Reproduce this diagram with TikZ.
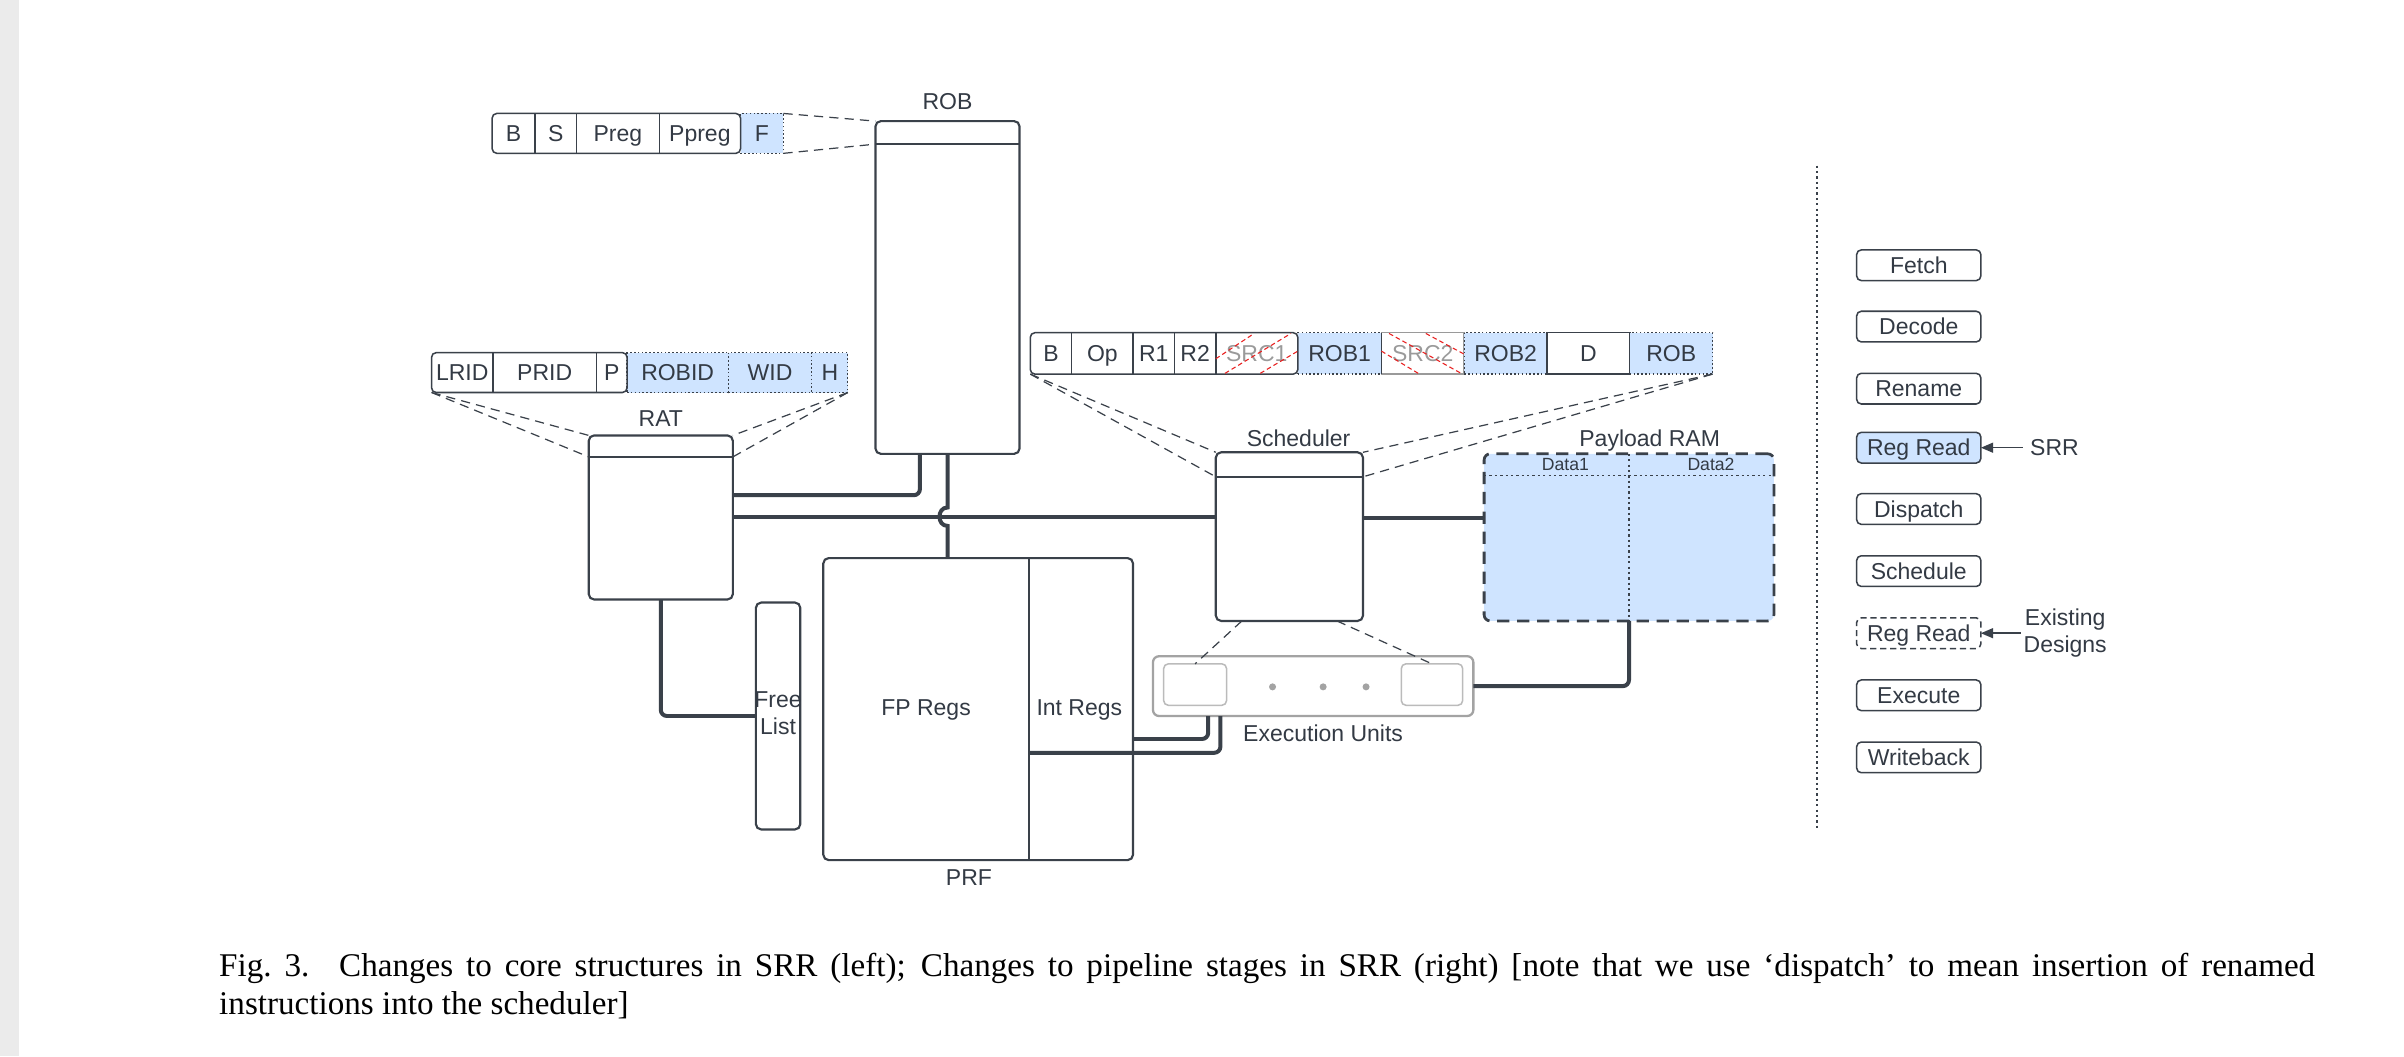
\documentclass[tikz,border=0pt]{standalone}
\usepackage{fontspec}
\setmainfont{Liberation Serif}
\newfontfamily\lsans{Liberation Sans}
\usetikzlibrary{arrows.meta,calc}
\definecolor{lc}{HTML}{3A414A}
\definecolor{tc}{HTML}{333A44}
\definecolor{bluef}{HTML}{CFE4FF}
\definecolor{grayb}{HTML}{A3A3A3}
\definecolor{grayi}{HTML}{BBBBBB}
\definecolor{redh}{HTML}{E82020}
\definecolor{srct}{HTML}{9A9A9A}
\definecolor{strip}{HTML}{EBEBEB}
\begin{document}
\begin{tikzpicture}[x=1pt,y=-1pt,
  every node/.style={inner sep=0pt, outer sep=0pt},
  lbl/.style={text=tc, font=\lsans\fontsize{15}{18}\selectfont, text height=10.7pt, text depth=0pt},
  mlbl/.style={text=tc, font=\lsans\fontsize{15}{17.5}\selectfont, align=center},
  small/.style={text=tc, font=\lsans\fontsize{11.5}{13}\selectfont, text height=8.2pt, text depth=0pt},
  bigbox/.style={draw=lc, line width=1.4pt, rounded corners=3.5pt},
  hdr/.style={draw=lc, line width=1.4pt},
  cell/.style={lbl, minimum height=26pt},
  bcell/.style={fill=bluef, draw=lc, line width=0.8pt, dash pattern=on 1pt off 1.5pt},
  barline/.style={draw=lc, line width=1pt},
  hatch/.style={draw=redh, line width=0.7pt, dash pattern=on 3pt off 2pt},
  conn/.style={draw=lc, line width=2.6pt, rounded corners=4pt},
  zline/.style={draw=lc, line width=0.8pt, dash pattern=on 6pt off 4pt},
  dotl/.style={draw=lc, line width=1pt, dash pattern=on 1.5pt off 2pt},
  sepl/.style={draw=lc, line width=1.2pt, dash pattern=on 1.5pt off 2pt},
  stage/.style={lbl, draw=lc, line width=1pt, rounded corners=3pt, minimum width=81pt, minimum height=20pt},
  arr/.style={draw=lc, line width=1pt, -{Triangle[length=8pt,width=6.5pt]}}
]
\useasboundingbox (0,0) rectangle (1568,689);
\fill[strip] (0,0) rectangle (12.4,689);

% ---------------- ROB ----------------
\node[bigbox, minimum width=94pt, minimum height=217pt] (rob) at (618,187.5) {};
\draw[hdr] ([yshift=-15pt]rob.north west) -- ([yshift=-15pt]rob.north east);
\node[lbl] (robl) at (618,66) {ROB};

\node[cell, minimum width=28pt] (rbB) at (335,87) {B};
\node[cell, minimum width=27pt] (rbS) at (362.5,87) {S};
\node[cell, minimum width=54pt] (rbP) at (403,87) {Preg};
\node[cell, minimum width=53pt] (rbPP) at (456.5,87) {Ppreg};
\node[cell, bcell, minimum width=28pt] (rbF) at (497,87) {F};
\draw[barline, rounded corners=3pt] (rbB.north west) rectangle (rbPP.south east);
\draw[barline] (rbB.north east) -- (rbB.south east) (rbS.north east) -- (rbS.south east) (rbP.north east) -- (rbP.south east);
\draw[zline] (rbF.north east) -- (rob.north west);
\draw[zline] (rbF.south east) -- ([yshift=-15pt]rob.north west);

% ---------------- RAT ----------------
\node[bigbox, minimum width=94pt, minimum height=107pt] (rat) at (431,337.5) {};
\draw[hdr] ([yshift=-14pt]rat.north west) -- ([yshift=-14pt]rat.north east);
\node[lbl] (ratl) at (431,273) {RAT};

\node[cell, minimum width=40pt] (raLR) at (301.5,243) {LRID};
\node[cell, minimum width=67.5pt] (raPR) at (355.25,243) {PRID};
\node[cell, minimum width=20pt] (raP) at (399,243) {P};
\node[cell, bcell, minimum width=66pt] (raRO) at (442,243) {ROBID};
\node[cell, bcell, minimum width=54.5pt] (raW) at (502.25,243) {WID};
\node[cell, bcell, minimum width=23.5pt] (raH) at (541.25,243) {H};
\draw[barline, rounded corners=3pt] (raLR.north west) rectangle (raP.south east);
\draw[barline] (raLR.north east) -- (raLR.south east) (raPR.north east) -- (raPR.south east);
\draw[zline] (raLR.south west) -- (rat.north west);
\draw[zline] (raLR.south west) -- ([yshift=-14pt]rat.north west);
\draw[zline] (raH.south east) -- (rat.north east);
\draw[zline] (raH.south east) -- ([yshift=-14pt]rat.north east);

% ---------------- Scheduler ----------------
\node[bigbox, minimum width=96pt, minimum height=110pt] (sch) at (841,350) {};
\draw[hdr] ([yshift=-16pt]sch.north west) -- ([yshift=-16pt]sch.north east);
\node[lbl] (schl) at (847,286) {Scheduler};

\node[cell, minimum height=27pt, minimum width=27pt] (sbB) at (685.5,230.5) {B};
\node[cell, minimum height=27pt, minimum width=40pt] (sbOp) at (719,230.5) {Op};
\node[cell, minimum height=27pt, minimum width=27pt] (sbR1) at (752.5,230.5) {R1};
\node[cell, minimum height=27pt, minimum width=27pt] (sbR2) at (779.5,230.5) {R2};
\node[cell, minimum height=27pt, minimum width=53.5pt, text=srct] (sbS1) at (819.75,230.5) {SRC1};
\node[cell, bcell, minimum height=27pt, minimum width=54.5pt] (sbRO1) at (873.75,230.5) {ROB1};
\node[cell, minimum height=27pt, minimum width=54pt, text=srct, draw=srct, line width=1pt] (sbS2) at (928,230.5) {SRC2};
\node[cell, bcell, minimum height=27pt, minimum width=54pt] (sbRO2) at (982,230.5) {ROB2};
\node[cell, minimum height=27pt, minimum width=54pt, draw=lc, line width=1pt] (sbD) at (1036,230.5) {D};
\node[cell, bcell, minimum height=27pt, minimum width=54pt] (sbRO) at (1090,230.5) {ROB};
\draw[barline, rounded corners=3pt] (sbB.north west) rectangle (sbS1.south east);
\draw[barline] (sbB.north east) -- (sbB.south east) (sbOp.north east) -- (sbOp.south east)
  (sbR1.north east) -- (sbR1.south east) (sbR2.north east) -- (sbR2.south east);
\draw[barline] (sbS2.north west) -- (sbS2.south west);
% crossed-out source fields
\draw[hatch] (793,234) -- (818,217.5);
\draw[hatch] (799,243.5) -- (842,217.5);
\draw[hatch] (822,243.5) -- (846.5,229);
\draw[hatch] (901,229) -- (925,243.5);
\draw[hatch] (906,217.5) -- (953,243.5);
\draw[hatch] (930,217.5) -- (955,231);
\draw[zline] (sbB.south west) -- (sch.north west);
\draw[zline] (sbB.south west) -- ([yshift=-16pt]sch.north west);
\draw[zline] (sbRO.south east) -- (sch.north east);
\draw[zline] (sbRO.south east) -- ([yshift=-16pt]sch.north east);

% ---------------- Payload RAM ----------------
\node[draw=lc, fill=bluef, line width=1.8pt, dash pattern=on 8pt off 5pt, rounded corners=4pt,
      minimum width=189pt, minimum height=109pt] (pay) at (1062.5,350.5) {};
\draw[dotl] ([yshift=-14pt]pay.north west) -- ([yshift=-14pt]pay.north east);
\draw[dotl] (pay.north) -- (pay.south);
\node[small] (d1) at (1021,302.5) {Data1};
\node[small] (d2) at (1116,302.5) {Data2};
\node[lbl] (payl) at (1076,286) {Payload RAM};

% ---------------- Execution units ----------------
\node[draw=grayb, line width=1.5pt, rounded corners=4pt, minimum width=209pt, minimum height=39pt] (eu) at (856.5,447.5) {};
\node[draw=grayi, line width=1pt, rounded corners=3pt, minimum width=41pt, minimum height=27pt] (eu1) at (779.5,446.5) {};
\node[draw=grayi, line width=1pt, rounded corners=3pt, minimum width=40pt, minimum height=27pt] (eu2) at (934,446.5) {};
\fill[grayb] (830,448) circle (2.3pt);
\fill[grayb] (863,448) circle (2.3pt);
\fill[grayb] (891,448) circle (2.3pt);
\node[lbl] (eul) at (863,478) {Execution Units};
\draw[zline] ([xshift=-31pt]sch.south) -- (eu1.north);
\draw[zline] ([xshift=31pt]sch.south) -- (eu2.north);

% ---------------- PRF ----------------
\node[bigbox, minimum width=202pt, minimum height=197pt] (prf) at (638,462.5) {};
\coordinate (prfdx) at (671,0);
\draw[draw=lc, line width=1pt] (prf.north -| prfdx) -- (prf.south -| prfdx);
\node[lbl] (fpl) at (604,461) {FP Regs};
\node[lbl] (intl) at (704,461) {Int Regs};
\node[lbl] (prfl) at (632,572) {PRF};

% ---------------- Free list ----------------
\node[bigbox, minimum width=29pt, minimum height=148pt] (fl) at (507.5,467) {};
\node[mlbl, anchor=north] (flt) at (507.5,451) {Free\\List};

% ---------------- Connectors ----------------
\coordinate (c1x) at (600,0);
\coordinate (c1y) at (0,323);
\coordinate (c2y) at (0,337);
\coordinate (jx) at (618,0);
\coordinate (hopT) at (618,331);
\coordinate (hopB) at (618,343);
\coordinate (c5y) at (0,338);
\coordinate (c7x) at (788,0);
\coordinate (c7y) at (0,482);
\coordinate (c8x) at (796,0);
\coordinate (prfdiv) at (671,491);

\draw[conn] (rob.south -| c1x) |- (rat.east |- c1y);
\draw[conn] (rat.east |- c2y) -- (sch.west |- c2y);
\draw[conn, rounded corners=0pt] (rob.south -| jx) -- (hopT) .. controls +(-7,0) and +(-7,0) .. (hopB) -- (prf.north -| jx);
\draw[conn] (rat.south) |- (fl.west);
\draw[conn] (sch.east |- c5y) -- (pay.west |- c5y);
\draw[conn] (eu.east) -| (pay.south);
\draw[conn] (eu.south -| c7x) |- (prf.east |- c7y);
\draw[conn] (eu.south -| c8x) |- (prfdiv);

% ---------------- Pipeline ----------------
\coordinate (sepT) at (1185,108);
\coordinate (sepB) at (1185,540);
\draw[sepl] (sepT) -- (sepB);

\node[stage] (p1) at (1251.5,173) {Fetch};
\node[stage] (p2) at (1251.5,213) {Decode};
\node[stage] (p3) at (1251.5,253.5) {Rename};
\node[stage, fill=bluef] (p4) at (1251.5,292) {Reg Read};
\node[stage] (p5) at (1251.5,332) {Dispatch};
\node[stage] (p6) at (1251.5,372.5) {Schedule};
\node[stage, dash pattern=on 4pt off 2.5pt] (p7) at (1251.5,413) {Reg Read};
\node[stage] (p8) at (1251.5,453.5) {Execute};
\node[stage] (p9) at (1251.5,494) {Writeback};

\node[lbl, inner sep=5pt] (srr) at (1340,292) {SRR};
\draw[arr] (srr.west) -- (p4.east);
\node[mlbl, anchor=north] (exd) at (1347,397) {Existing\\Designs};
\draw[arr] ([xshift=-2pt]exd.west |- p7.east) -- (p7.east);

% ---------------- Caption ----------------
\node[anchor=base west, text=black] (cap) at (143,637) {\parbox[t]{1367pt}{\fontsize{21.6}{24.5}\selectfont
Fig.~3.\hspace{0.9em}Changes to core structures in SRR (left); Changes to pipeline stages in SRR (right) [note that we use ‘dispatch’ to mean insertion of renamed\linebreak
instructions into the scheduler]}};
\end{tikzpicture}
\end{document}
